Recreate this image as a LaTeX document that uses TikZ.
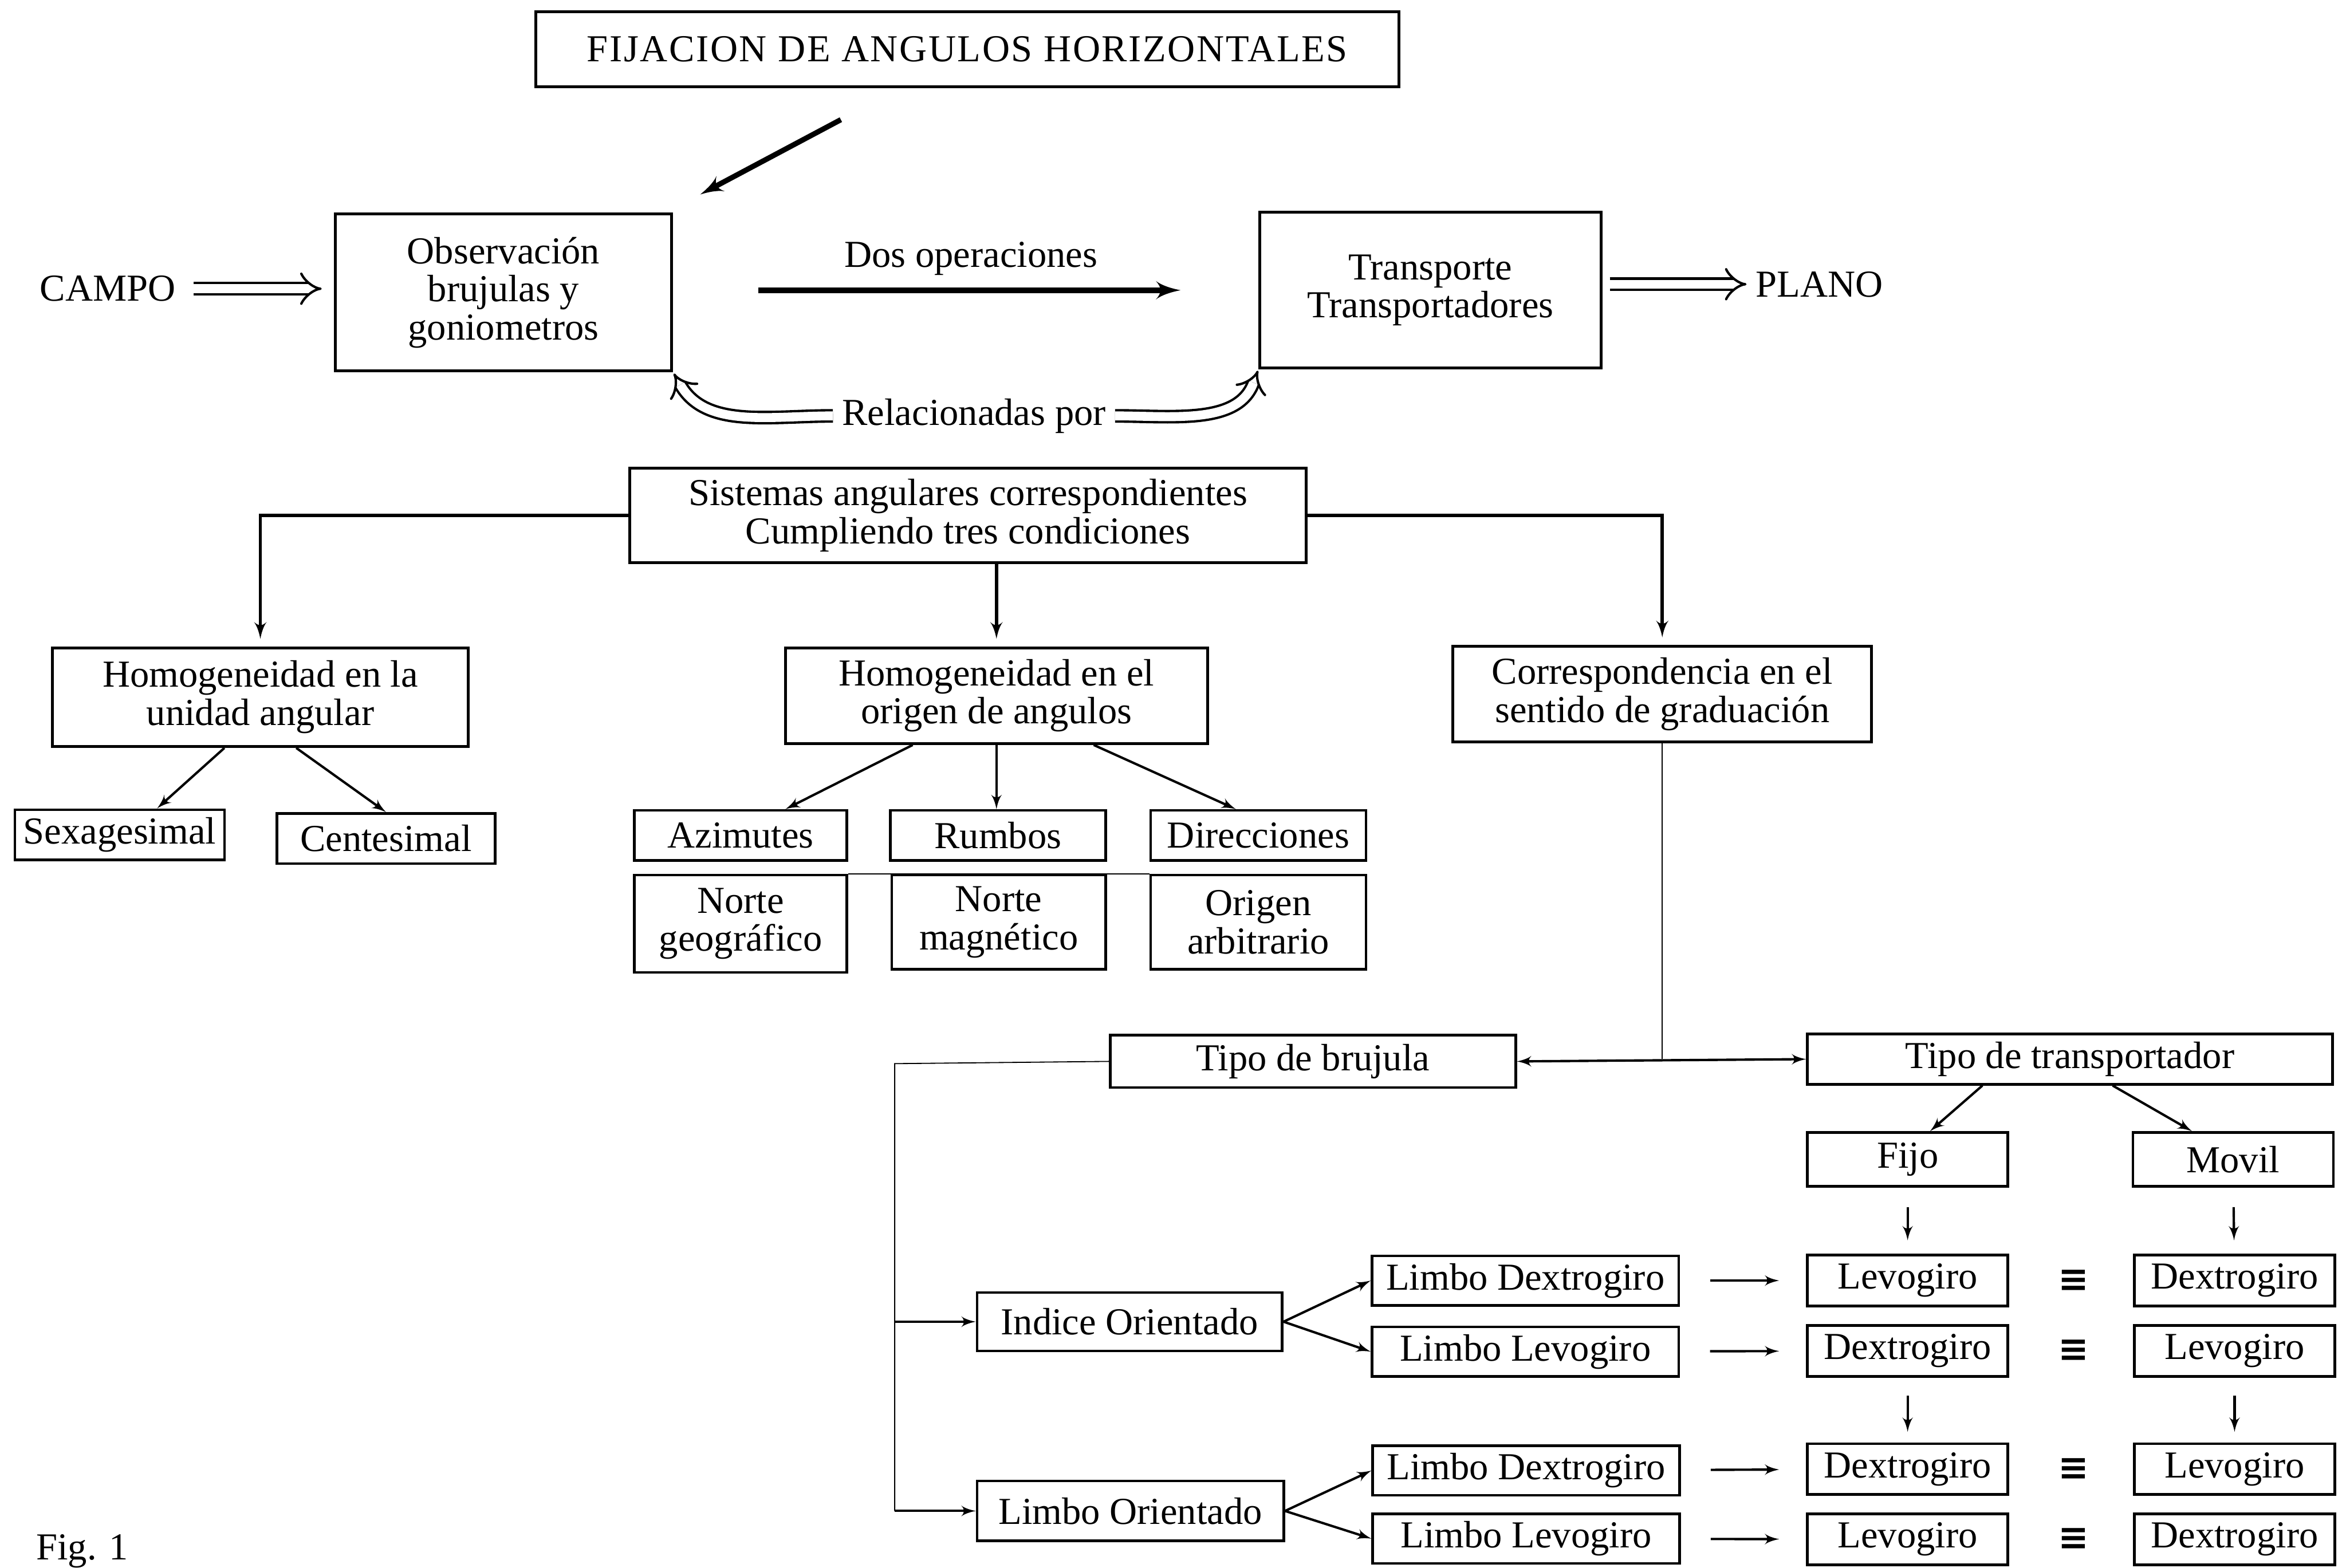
\documentclass[tikz,border=0pt]{standalone}
\usepackage{fontspec}
\setmainfont{Liberation Serif}
\newfontfamily\symfont{DejaVu Sans}
\usetikzlibrary{shapes,arrows}
\usetikzlibrary{arrows.meta}
\usetikzlibrary{positioning}
\usetikzlibrary{calc}
\tikzstyle{block} = [draw, rectangle, line width=1.1pt, align=center, inner sep=1pt]
\tikzstyle{line} = [draw, -latex']
\tikzstyle{dline} = [draw, double, double distance=3.4pt, line width=0.9pt, -{Implies}]
\tikzstyle{same} = [font=\symfont\bfseries\fontsize{14}{14}\selectfont]

\begin{document}
\begin{tikzpicture}[x=0.2mm, y=-0.2mm, font=\fontsize{14.5}{14.5}\selectfont,
	small/.style={block, line width=1pt, minimum height=6.7mm},
	limbo/.style={small, minimum width=41mm, minimum height=6.6mm},
	sense/.style={small, minimum width=26.8mm, minimum height=6.8mm}]
	\useasboundingbox (0,0) rectangle (1568,1048);
	\node [block, minimum width=115.4mm, minimum height=10mm, font=\fontsize{14.5}{14.5}\selectfont\addfontfeature{LetterSpace=4}] (title) at (646.5,33) {FIJACION DE ANGULOS HORIZONTALES};
	\node (campo) at (72,193) {CAMPO};
	\node [block, minimum width=45mm, minimum height=21mm] (obs) at (336.5,195.5) {Observación\\brujulas y\\goniometros};
	\node (dos) at (649,173) {Dos operaciones};
	\node [block, minimum width=45.6mm, minimum height=20.8mm] (trans) at (956,194) {Transporte\\Transportadores};
	\node (plano) at (1216,190) {PLANO};
	\node (rel) at (651,278) {Relacionadas por};
	\node [block, minimum width=90.4mm, minimum height=12.6mm] (sist) at (647,344.5) {Sistemas angulares correspondientes\\Cumpliendo tres condiciones};
	%% Three conditions
	\node [block, minimum width=55.6mm, minimum height=13.2mm] (hua) at (174,466) {Homogeneidad en la\\unidad angular};
	\node [block, minimum width=56.4mm, minimum height=12.8mm] (hoa) at (666,465) {Homogeneidad en el\\origen de angulos};
	\node [block, minimum width=56mm, minimum height=12.8mm] (csg) at (1111,464) {Correspondencia en el\\sentido de graduación};
	\node [small, minimum width=28mm] (sex) at (80,558) {Sexagesimal};
	\node [small, minimum width=29.2mm] (cen) at (258,560.5) {Centesimal};
	\node [small, minimum width=28.4mm] (azi) at (495,558.5) {Azimutes};
	\node [small, minimum width=28.8mm] (rum) at (667,558.5) {Rumbos};
	\node [small, minimum width=28.8mm] (dir) at (841,558.5) {Direcciones};
	\node [small, minimum width=28.4mm, minimum height=13mm] (ngeo) at (495,617.5) {Norte\\geográfico};
	\node [small, minimum width=28.6mm, minimum height=12.6mm] (nmag) at (667.5,616.5) {Norte\\magnético};
	\node [small, minimum width=28.8mm, minimum height=12.6mm] (oarb) at (841,616.5) {Origen\\arbitrario};
	%% Compass and protractor
	\node [small, minimum width=54.2mm, minimum height=7mm] (tbru) at (877.5,709.5) {Tipo de brujula};
	\node [small, minimum width=70.2mm] (ttra) at (1383.5,708) {Tipo de transportador};
	\node [sense, minimum height=7.2mm] (fijo) at (1275,775) {Fijo};
	\node [sense, minimum height=7.2mm] (movil) at (1492.5,775) {Movil};
	\node [small, minimum width=40.8mm, minimum height=7.8mm] (iori) at (755,883.5) {Indice Orientado};
	\node [small, minimum width=41mm, minimum height=8mm] (lori) at (755.5,1010) {Limbo Orientado};
	\node [limbo] (ldA) at (1019.5,856) {Limbo Dextrogiro};
	\node [limbo] (llA) at (1019.5,903.5) {Limbo Levogiro};
	\node [limbo] (ldB) at (1020,983) {Limbo Dextrogiro};
	\node [limbo] (llB) at (1020,1028.5) {Limbo Levogiro};
	\node [sense] (fA) at (1275,856) {Levogiro};
	\node [sense] (mA) at (1493.5,856) {Dextrogiro};
	\node [sense] (fB) at (1275,903) {Dextrogiro};
	\node [sense] (mB) at (1493.5,903) {Levogiro};
	\node [sense] (fC) at (1275,982) {Dextrogiro};
	\node [sense] (mC) at (1493.5,982) {Levogiro};
	\node [sense] (fD) at (1275,1029) {Levogiro};
	\node [sense] (mD) at (1493.5,1029) {Dextrogiro};
	\node [same] (eA) at (1386,856) {≡};
	\node [same] (eB) at (1386,903) {≡};
	\node [same] (eC) at (1386,982) {≡};
	\node [same] (eD) at (1386,1029) {≡};
	\node (fig) at (55,1037) {Fig. 1};
	%% Arrows
	\coordinate (fa) at (562,80);
	\coordinate (fb) at (468,130);
	\path [line, line width=2pt] (fa) -- (fb);
	\path [dline, shorten <=1.2mm, shorten >=1.6mm] (campo.east) -- (campo.east -| obs.west);
	\path [line, line width=2.2pt, shorten <=11.4mm, shorten >=10.4mm] (obs.east |- trans.west) -- (trans.west);
	\path [dline, shorten <=1mm] (plano.west -| trans.east) -- (plano.west);
	\path [dline, shorten >=0.5pt] (rel.west) to [out=180, in=-60] (obs.south east);
	\path [dline, shorten >=0.5pt] (rel.east) to [out=0, in=-110] (trans.south west);
	%% Conditions
	\path [line, line width=1.2pt, shorten >=1mm] (sist.west) -| (hua.north);
	\path [line, line width=1.2pt, shorten >=1mm] (hoa.north |- sist.south) -- (hoa.north);
	\path [line, line width=1.2pt, shorten >=1mm] (sist.east) -| (csg.north);
	\path [line, line width=0.9pt] ([xshift=-4.8mm]hua.south) -- ([xshift=5mm]sex.north);
	\path [line, line width=0.9pt] ([xshift=4.8mm]hua.south) -- (cen.north);
	\path [line, line width=0.9pt] ([xshift=-11.2mm]hoa.south) -- ([xshift=6mm]azi.north);
	\path [line, line width=0.9pt] (hoa.south) -- (hoa.south |- rum.north);
	\path [line, line width=0.9pt] ([xshift=13mm]hoa.south) -- ([xshift=-3mm]dir.north);
	\draw [thin] (ngeo.north east) -- (oarb.north west);
	%% Sense of graduation
	\coordinate (jn) at (csg.south |- ttra.west);
	\draw [thin] (csg.south) -- (jn);
	\path [line, latex'-latex', line width=0.9pt] (tbru.east) -- (ttra.west);
	\coordinate (bk) at (598,711);
	\draw [thin] (tbru.west) -- (bk) -- (bk |- lori.west);
	\path [line, line width=0.9pt] (bk |- iori.west) -- (iori.west);
	\path [line, line width=0.9pt] (bk |- lori.west) -- (lori.west);
	\path [line, line width=0.9pt] ([xshift=-11.7mm]ttra.south) -- ([xshift=3mm]fijo.north);
	\path [line, line width=0.9pt] ([xshift=5.7mm]ttra.south) -- ([xshift=-5.5mm]movil.north);
	\path [line, line width=0.9pt] (iori.east) -- (ldA.west);
	\path [line, line width=0.9pt] (iori.east) -- (llA.west);
	\path [line, line width=0.9pt] (lori.east) -- (ldB.west);
	\path [line, line width=0.9pt] (lori.east) -- (llB.west);
	\path [line, line width=0.9pt, shorten <=2.6mm, shorten >=1.8mm] (fijo) -- (fA);
	\path [line, line width=0.9pt, shorten <=2.6mm, shorten >=1.8mm] (movil) -- (mA);
	\path [line, line width=0.9pt, shorten <=2.4mm, shorten >=1.4mm] (fB) -- (fC);
	\path [line, line width=0.9pt, shorten <=2.4mm, shorten >=1.4mm] (mB) -- (mC);
	\path [line, line width=0.9pt, shorten <=4mm, shorten >=3.6mm] (ldA) -- (fA);
	\path [line, line width=0.9pt, shorten <=4mm, shorten >=3.6mm] (llA) -- (fB);
	\path [line, line width=0.9pt, shorten <=4mm, shorten >=3.6mm] (ldB) -- (fC);
	\path [line, line width=0.9pt, shorten <=4mm, shorten >=3.6mm] (llB) -- (fD);
\end{tikzpicture}
\end{document}
